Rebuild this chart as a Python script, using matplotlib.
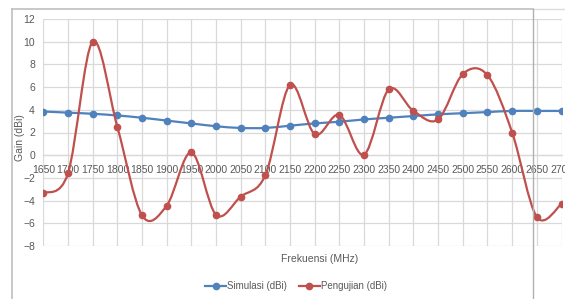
import numpy as np
import matplotlib
matplotlib.use("Agg")
import matplotlib.pyplot as plt
from matplotlib.path import Path
from matplotlib.patches import PathPatch
from matplotlib.lines import Line2D

# frequency categories (MHz)
freq = [1650, 1700, 1750, 1800, 1850, 1900, 1950, 2000, 2050, 2100, 2150,
        2200, 2250, 2300, 2350, 2400, 2450, 2500, 2550, 2600, 2650, 2700]
# simulated gain (dBi)
simulasi = [3.85, 3.75, 3.65, 3.5, 3.3, 3.05, 2.8, 2.55, 2.4, 2.4, 2.6,
            2.8, 2.95, 3.15, 3.3, 3.45, 3.6, 3.7, 3.8, 3.9, 3.9, 3.9]
# measured gain (dBi)
pengujian = [-3.35, -1.6, 10.0, 2.5, -5.3, -4.45, 0.25, -5.25, -3.65, -1.75, 6.2,
             1.85, 3.55, 0.05, 5.8, 3.9, 3.15, 7.15, 7.05, 2.0, -5.45, -4.3]
y_ticks = [-8, -6, -4, -2, 0, 2, 4, 6, 8, 10, 12]

BLUE = '#4f81bd'
RED = '#c0504d'
TXT = '#595959'
GRID = '#d9d9d9'
FONT = 'Liberation Sans'


def smooth_path(x, y):
    # excel style smoothed line (catmull-rom as cubic beziers)
    pts = np.column_stack([x, y]).astype(float)
    n = len(pts)
    verts = [pts[0]]
    codes = [Path.MOVETO]
    for i in range(n - 1):
        p0 = pts[i - 1] if i > 0 else pts[i]
        p1 = pts[i]
        p2 = pts[i + 1]
        p3 = pts[i + 2] if i + 2 < n else pts[i + 1]
        c1 = p1 + (p2 - p0) / 6.0
        c2 = p2 - (p3 - p1) / 6.0
        verts += [c1, c2, p2]
        codes += [Path.CURVE4] * 3
    return Path(verts, codes)


def draw_series(ax, x, y, color, z):
    ax.add_patch(PathPatch(smooth_path(x, y), facecolor='none', edgecolor=color,
                           linewidth=1.6, zorder=z, capstyle='round'))
    ax.plot(x, y, linestyle='none', marker='o', markersize=4.5,
            color=color, zorder=z + 0.5)


W, H = 565, 299
fig = plt.figure(figsize=(W / 100, H / 100), dpi=100)
fig.patch.set_facecolor('white')

x0, x1 = 43.3, 561.5
top, bot = 19, 246
ax = fig.add_axes([x0 / W, (H - bot) / H, (x1 - x0) / W, (bot - top) / H])

draw_series(ax, freq, simulasi, BLUE, 3)
draw_series(ax, freq, pengujian, RED, 4)

ax.set_xlim(freq[0], freq[-1])
ax.set_ylim(y_ticks[0], y_ticks[-1])
ax.set_xticks(freq)
ax.set_yticks(y_ticks)
ax.grid(True, color=GRID, linewidth=0.9)
ax.set_axisbelow(True)
for s in ['top', 'right', 'left']:
    ax.spines[s].set_visible(False)
ax.spines['bottom'].set_position(('data', 0))
ax.spines['bottom'].set_color(GRID)
ax.spines['bottom'].set_linewidth(0.9)
ax.tick_params(axis='both', length=0, colors=TXT, labelsize=7.5)
ax.tick_params(axis='x', pad=7)
ax.tick_params(axis='y', pad=6)
for lab in ax.get_xticklabels() + ax.get_yticklabels():
    lab.set_fontfamily(FONT)

fig.text(20 / W, 1 - 138 / H, 'Gain (dBi)', rotation=90, ha='center', va='center',
         color=TXT, fontsize=7.5, family=FONT)
fig.text(320 / W, 1 - 259 / H, 'Frekuensi (MHz)', ha='center', va='center',
         color=TXT, fontsize=7.5, family=FONT)

# legend
handles = [Line2D([], [], color=BLUE, marker='o', markersize=4.5, linewidth=1.6),
           Line2D([], [], color=RED, marker='o', markersize=4.5, linewidth=1.6)]
leg = fig.legend(handles, ['Simulasi (dBi)', 'Pengujian (dBi)'], loc='center',
                 bbox_to_anchor=(296 / W, 1 - 286 / H), ncol=2, frameon=False,
                 fontsize=7, handlelength=2.2, handletextpad=0.1, columnspacing=1.2,
                 prop={'family': FONT, 'size': 7})
for t in leg.get_texts():
    t.set_color(TXT)

# chart border (cropped)
fig.add_artist(Line2D([12 / W, 12 / W], [0, 1 - 9 / H], color='#bfbfbf', linewidth=1.2))
fig.add_artist(Line2D([12 / W, 533 / W], [1 - 9 / H, 1 - 9 / H], color='#bfbfbf', linewidth=1.2))
fig.add_artist(Line2D([533 / W, 1], [1 - 9 / H, 1 - 9 / H], color='#dcdcdc', linewidth=1.0))
fig.add_artist(Line2D([533 / W, 533 / W], [0, 1 - 9 / H], color='#b0b0b0', linewidth=1.0))

fig.savefig('out.png', dpi=100)
